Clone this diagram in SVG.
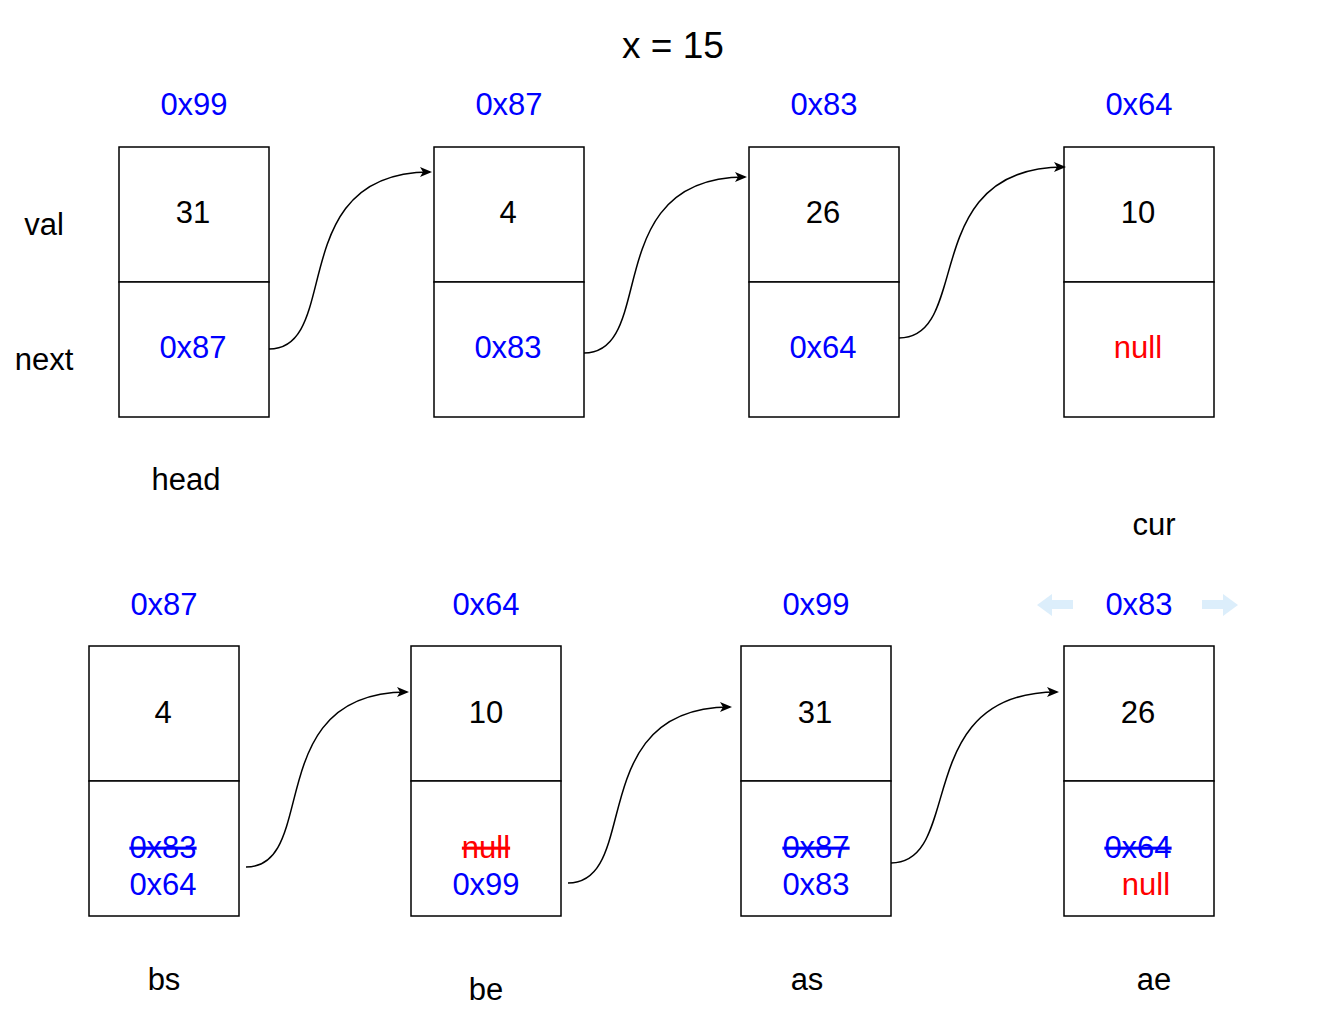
<svg xmlns="http://www.w3.org/2000/svg" width="1330" height="1018" viewBox="0 0 1330 1018">
<style>
text{font-family:"Liberation Sans",Arial,sans-serif;font-size:31px;text-anchor:middle;dominant-baseline:central;fill:#000}
.b{fill:#0000ff}
.r{fill:#ff0000}
.s{text-decoration:line-through}
.box{fill:#fff;stroke:#000;stroke-width:1.5}
.c{fill:none;stroke:#000;stroke-width:1.5}
.ha{fill:#dceefb}
</style>
<defs>
<marker id="ah" markerWidth="12" markerHeight="10" refX="10" refY="5" orient="auto" markerUnits="userSpaceOnUse">
<path d="M0,0 L12,5 L0,10 L3,5 Z" fill="#000"/>
</marker>
</defs>
<rect width="1330" height="1018" fill="#fff"/>
<text x="673" y="45" style="font-size:37px">x = 15</text>
<text x="44" y="224">val</text>
<text x="44" y="359">next</text>
<g id="n1"><text class="b" x="194" y="104">0x99</text><rect class="box" x="119" y="147" width="150" height="135"/><rect class="box" x="119" y="282" width="150" height="135"/><text x="193" y="212">31</text><text class="b" x="193" y="347">0x87</text></g>
<g id="n2"><text class="b" x="509" y="104">0x87</text><rect class="box" x="434" y="147" width="150" height="135"/><rect class="box" x="434" y="282" width="150" height="135"/><text x="508" y="212">4</text><text class="b" x="508" y="347">0x83</text></g>
<g id="n3"><text class="b" x="824" y="104">0x83</text><rect class="box" x="749" y="147" width="150" height="135"/><rect class="box" x="749" y="282" width="150" height="135"/><text x="823" y="212">26</text><text class="b" x="823" y="347">0x64</text></g>
<g id="n4"><text class="b" x="1139" y="104">0x64</text><rect class="box" x="1064" y="147" width="150" height="135"/><rect class="box" x="1064" y="282" width="150" height="135"/><text x="1138" y="212">10</text><text class="r" x="1138" y="347">null</text></g>
<text x="186" y="479">head</text>
<text x="1154" y="524">cur</text>
<g id="m1"><text class="b" x="164" y="604">0x87</text><rect class="box" x="89" y="646" width="150" height="135"/><rect class="box" x="89" y="781" width="150" height="135"/><text x="163" y="712">4</text><text class="b s" x="163" y="847">0x83</text><text class="b" x="163" y="884">0x64</text></g>
<g id="m2"><text class="b" x="486" y="604">0x64</text><rect class="box" x="411" y="646" width="150" height="135"/><rect class="box" x="411" y="781" width="150" height="135"/><text x="486" y="712">10</text><text class="r s" x="486" y="847">null</text><text class="b" x="486" y="884">0x99</text></g>
<g id="m3"><text class="b" x="816" y="604">0x99</text><rect class="box" x="741" y="646" width="150" height="135"/><rect class="box" x="741" y="781" width="150" height="135"/><text x="815" y="712">31</text><text class="b s" x="816" y="847">0x87</text><text class="b" x="816" y="884">0x83</text></g>
<g id="m4"><text class="b" x="1139" y="604">0x83</text><rect class="box" x="1064" y="646" width="150" height="135"/><rect class="box" x="1064" y="781" width="150" height="135"/><text x="1138" y="712">26</text><text class="b s" x="1138" y="847">0x64</text><text class="r" x="1146" y="884">null</text></g>
<g id="hover"><path class="ha" d="M1037,605 L1052,594 L1052,600 L1073,600 L1073,609 L1052,609 L1052,616 Z"/><path class="ha" d="M1238,605 L1223,594 L1223,600 L1202,600 L1202,609 L1223,609 L1223,616 Z"/></g>
<text x="164" y="979">bs</text>
<text x="486" y="989">be</text>
<text x="807" y="979">as</text>
<text x="1154" y="979">ae</text>
<g id="connectors">
<path class="c" marker-end="url(#ah)" d="M269,349 C343,349 283,172 430,172"/>
<path class="c" marker-end="url(#ah)" d="M584,353 C658,353 598,177 745,177"/>
<path class="c" marker-end="url(#ah)" d="M899,338 C973,338 917,167 1064,167"/>
<path class="c" marker-end="url(#ah)" d="M246,867 C320,867 260,692 407,692"/>
<path class="c" marker-end="url(#ah)" d="M568,883 C642,883 583,707 730,707"/>
<path class="c" marker-end="url(#ah)" d="M891,863 C965,863 910,692 1057,692"/>
</g>
</svg>
